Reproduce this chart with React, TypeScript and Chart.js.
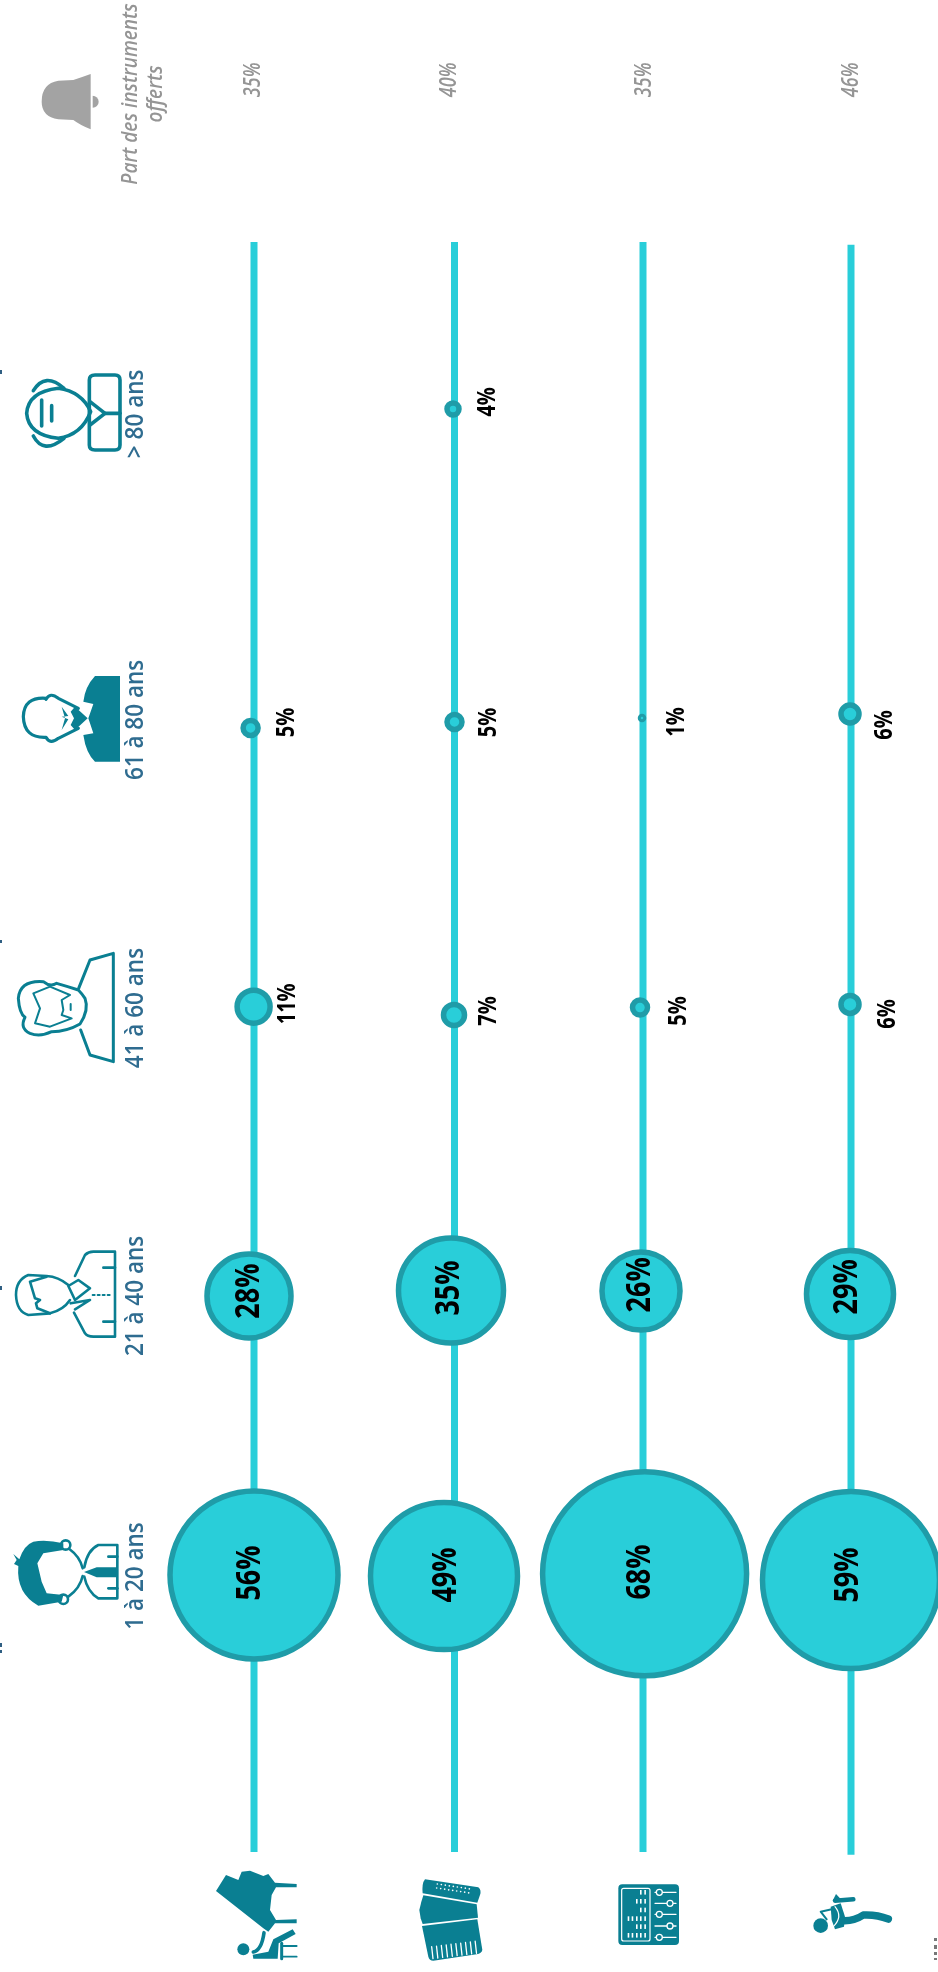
import React, { useEffect, useRef } from "react";
import { Chart, registerables } from "chart.js";

Chart.register(...registerables);

// ---- Data ----
const ageGroups = ["1 à 20 ans", "21 à 40 ans", "41 à 60 ans", "61 à 80 ans", "> 80 ans"];
const instruments = ["Piano", "Accordéon", "MAO", "Flûte"];

const pianoValues = [56, 28, 11, 5, null];
const accordionValues = [49, 35, 7, 5, 4];
const mixerValues = [68, 26, 5, 1, null];
const fluteValues = [59, 29, 6, 6, null];
const giftShare = [35, 40, 35, 46];

// Read axis positions (rows = instruments, columns = age groups; the hand-placed jitter of the source is kept)
const rowAxis = [0, 1.0025, 1.945, 2.985];
const lineFrom = [-0.972, -0.972, -0.972, -0.982];
const lineTo = [4.677, 4.677, 4.677, 4.667];
const pianoRow = [0, -0.025, -0.002, -0.017, 0];
const accordionRow = [0.95, 0.985, 1, 1.0025, 0.995];
const mixerRow = [1.953, 1.935, 1.93, 1.94, 1.945];
const fluteRow = [2.985, 2.98, 2.98, 2.98, 2.985];
const pianoAge = [0, 0.979, 1.994, 2.972, 4];
const accordionAge = [-0.004, 0.998, 1.965, 2.993, 4.091];
const mixerAge = [0.004, 0.996, 1.991, 3.007, 4];
const fluteAge = [-0.018, 0.986, 2.002, 3.021, 4];
const ageLabelAxis = [-0.0035, 0.979, 1.989, 3.0, 4.074];
const giftRowAxis = [-0.005, 0.975, 1.95, 2.985];
const giftAgeAxis = 5.246;

// Where the value labels sit on the same two axes
const pianoLabelRow = [-0.0175, -0.0225, 0.17, 0.165, 0];
const accordionLabelRow = [0.96, 0.975, 1.175, 1.175, 1.17];
const mixerLabelRow = [1.93, 1.93, 2.125, 2.115, 0];
const fluteLabelRow = [2.97, 2.965, 3.17, 3.155, 0];
const pianoLabelAge = [0.007, 0.996, 2.004, 2.991, 0];
const accordionLabelAge = [0, 1.007, 1.979, 2.991, 4.116];
const mixerLabelAge = [0.0105, 1.018, 1.979, 2.993, 0];
const fluteLabelAge = [0, 1.011, 1.968, 2.982, 0];

const allValues = [pianoValues, accordionValues, mixerValues, fluteValues];
const allRows = [pianoRow, accordionRow, mixerRow, fluteRow];
const allAges = [pianoAge, accordionAge, mixerAge, fluteAge];
const allLabelRows = [pianoLabelRow, accordionLabelRow, mixerLabelRow, fluteLabelRow];
const allLabelAges = [pianoLabelAge, accordionLabelAge, mixerLabelAge, fluteLabelAge];

// ---- Style ----
const CYAN = "#29CED9";
const EDGE = "#1F9CA8";
const TEAL = "#0A7F92";
const AGE_TEXT = "#2F6C90";
const GREY = "#A3A3A3";
const GREY_TEXT = "#959595";
const FONT = '"Open Sans"';

// The reference's text is stretched across its reading direction; `stretch` reproduces that.
function rotText(ctx: any, text: string, cx: number, cy: number, font: string, color: string, stretch = 1) {
  ctx.save();
  ctx.translate(cx, cy);
  ctx.rotate(-Math.PI / 2);
  ctx.scale(1, stretch);
  ctx.font = font;
  ctx.fillStyle = color;
  ctx.textAlign = "center";
  ctx.textBaseline = "middle";
  ctx.fillText(text, 0, 0);
  ctx.restore();
}

// Small path language in crop coordinates (1/3 px)
function path(ctx: any, ox: number, oy: number, d: any[]) {
  const X = (v: number) => ox + v / 3;
  const Y = (v: number) => oy + v / 3;
  ctx.beginPath();
  for (const s of d) {
    if (s[0] === "M") ctx.moveTo(X(s[1]), Y(s[2]));
    else if (s[0] === "L") ctx.lineTo(X(s[1]), Y(s[2]));
    else if (s[0] === "Q") ctx.quadraticCurveTo(X(s[1]), Y(s[2]), X(s[3]), Y(s[4]));
    else if (s[0] === "Z") ctx.closePath();
  }
}
function poly(pts: number[][], close = true) {
  const d: any[] = pts.map((p, i) => [i ? "L" : "M", p[0], p[1]]);
  if (close) d.push(["Z"]);
  return d;
}
function fillP(ctx: any, ox: number, oy: number, d: any[], color = TEAL) {
  path(ctx, ox, oy, d);
  ctx.fillStyle = color;
  ctx.fill();
}
function strokeP(ctx: any, ox: number, oy: number, d: any[], w = 2.6, color = TEAL) {
  path(ctx, ox, oy, d);
  ctx.strokeStyle = color;
  ctx.lineWidth = w;
  ctx.lineJoin = "round";
  ctx.lineCap = "round";
  ctx.stroke();
}
function circ(ctx: any, ox: number, oy: number, x: number, y: number, r: number, fill?: string, stroke?: string, w = 2) {
  ctx.beginPath();
  ctx.arc(ox + x / 3, oy + y / 3, r / 3, 0, Math.PI * 2);
  if (fill) {
    ctx.fillStyle = fill;
    ctx.fill();
  }
  if (stroke) {
    ctx.strokeStyle = stroke;
    ctx.lineWidth = w;
    ctx.stroke();
  }
}

function drawPeople(ctx: any) {
  // 1 à 20
  let ox = 0, oy = 1480;
  fillP(ctx, ox, oy, [["M", 190, 190], ["Q", 140, 178, 100, 185], ["Q", 72, 195, 58, 238], ["L", 40, 222], ["L", 50, 240], ["L", 42, 252], ["L", 55, 258], ["Q", 48, 340, 115, 377], ["L", 185, 365], ["L", 190, 345], ["L", 140, 340], ["L", 125, 305], ["L", 112, 250], ["L", 130, 220], ["L", 190, 210], ["Z"]]);
  circ(ctx, ox, oy, 197, 195, 14, undefined, TEAL, 2.6);
  circ(ctx, ox, oy, 190, 358, 14, undefined, TEAL, 2.6);
  strokeP(ctx, ox, oy, [["M", 208, 207], ["Q", 240, 230, 248, 265]]);
  strokeP(ctx, ox, oy, [["M", 205, 350], ["Q", 240, 325, 248, 288]]);
  strokeP(ctx, ox, oy, [["M", 253, 262], ["Q", 262, 210, 295, 195], ["L", 352, 195], ["L", 352, 355], ["L", 295, 355], ["Q", 262, 335, 253, 290]]);
  fillP(ctx, ox, oy, poly([[252, 276], [290, 262], [352, 262], [352, 292], [290, 292]]));
  strokeP(ctx, ox, oy, [["M", 325, 230], ["L", 352, 230]]);
  strokeP(ctx, ox, oy, [["M", 325, 325], ["L", 352, 325]]);

  // 21 à 40
  oy = 1220;
  strokeP(ctx, ox, oy, [["M", 205, 195], ["Q", 175, 170, 140, 168], ["L", 85, 165], ["Q", 48, 180, 48, 225], ["Q", 50, 275, 85, 285], ["L", 150, 280], ["Q", 190, 270, 210, 240]]);
  strokeP(ctx, ox, oy, poly([[140, 170], [90, 185], [105, 235], [120, 240], [108, 250], [112, 265], [150, 280]], false));
  strokeP(ctx, ox, oy, [["M", 225, 168], ["L", 255, 105], ["Q", 265, 95, 280, 95], ["L", 345, 95], ["L", 345, 350], ["L", 280, 350], ["Q", 262, 350, 255, 340], ["L", 222, 278]]);
  strokeP(ctx, ox, oy, poly([[205, 198], [235, 180], [270, 205], [225, 240], [205, 198]], false));
  strokeP(ctx, ox, oy, poly([[212, 250], [270, 240], [225, 268]], false));
  strokeP(ctx, ox, oy, [["M", 310, 143], ["L", 345, 143]]);
  strokeP(ctx, ox, oy, [["M", 310, 305], ["L", 345, 305]]);
  ctx.save();
  ctx.setLineDash([2, 3]);
  strokeP(ctx, ox, oy, [["M", 278, 225], ["L", 335, 225]], 2);
  ctx.restore();

  // 41 à 60
  oy = 930;
  strokeP(ctx, ox, oy, poly([[236, 175], [270, 90], [340, 70], [340, 395], [270, 375], [242, 300]], false), 3);
  strokeP(ctx, ox, oy, [["M", 235, 180], ["Q", 205, 170, 170, 160], ["Q", 150, 172, 130, 155], ["Q", 60, 150, 55, 205], ["Q", 58, 250, 75, 262], ["Q", 58, 295, 90, 310], ["Q", 120, 322, 155, 305], ["Q", 200, 305, 240, 282], ["Q", 268, 240, 255, 205], ["Q", 245, 190, 235, 180]], 3);
  strokeP(ctx, ox, oy, poly([[100, 190], [150, 170], [210, 195], [185, 210], [190, 240], [185, 255], [215, 265], [150, 290], [105, 280], [120, 235]]), 2);
  strokeP(ctx, ox, oy, [["M", 212, 222], ["L", 212, 240]], 2);

  // 61 à 80
  oy = 650;
  fillP(ctx, ox, oy, [["M", 360, 78], ["L", 285, 78], ["Q", 255, 110, 250, 155], ["L", 280, 162], ["L", 265, 205], ["L", 280, 250], ["L", 250, 255], ["Q", 258, 310, 285, 335], ["L", 360, 335], ["Z"]]);
  strokeP(ctx, ox, oy, [["M", 138, 145], ["Q", 72, 140, 70, 200], ["Q", 72, 265, 138, 262], ["Q", 150, 285, 175, 265], ["L", 235, 235]], 3.2);
  strokeP(ctx, ox, oy, [["M", 138, 148], ["Q", 150, 125, 175, 145], ["L", 235, 175]], 3.2);
  fillP(ctx, ox, oy, poly([[225, 170], [263, 205], [225, 240], [212, 225], [222, 205], [212, 185]]));
  fillP(ctx, ox, oy, poly([[185, 170], [205, 198], [185, 200], [205, 208], [185, 240], [195, 205]]));

  // > 80
  oy = 350;
  strokeP(ctx, ox, oy, [["M", 175, 115], ["Q", 245, 125, 272, 185], ["Q", 245, 255, 175, 265], ["Q", 85, 255, 80, 190], ["Q", 85, 125, 175, 115]], 3.6);
  strokeP(ctx, ox, oy, [["M", 100, 122], ["Q", 135, 65, 192, 115]], 3.6);
  strokeP(ctx, ox, oy, [["M", 100, 258], ["Q", 130, 315, 192, 265]], 3.6);
  strokeP(ctx, ox, oy, [["M", 125, 150], ["L", 125, 228]], 3.6);
  strokeP(ctx, ox, oy, [["M", 155, 167], ["L", 155, 213]], 3.6);
  strokeP(ctx, ox, oy, [["M", 285, 75], ["L", 345, 75], ["Q", 360, 75, 360, 90], ["L", 360, 285], ["Q", 360, 300, 345, 300], ["L", 285, 300], ["Q", 268, 300, 268, 285], ["L", 268, 90], ["Q", 268, 75, 285, 75]], 3.6);
  strokeP(ctx, ox, oy, poly([[270, 155], [315, 190], [270, 225]], false), 3.6);
  strokeP(ctx, ox, oy, [["M", 315, 190], ["L", 360, 190]], 3.6);
}

function drawInstruments(ctx: any) {
  let ox = 200, oy = 1860;
  // Piano
  fillP(ctx, ox, oy, poly([[48, 93], [78, 45], [115, 60], [125, 35], [150, 32], [190, 48], [205, 42], [225, 68], [290, 72], [290, 82], [228, 82], [215, 105], [210, 150], [228, 180], [290, 178], [290, 190], [225, 190], [205, 215], [190, 205]]));
  circ(ctx, ox, oy, 130, 268, 18, TEAL);
  strokeP(ctx, ox, oy, [["M", 192, 218], ["Q", 185, 270, 160, 276]], 3.6);
  fillP(ctx, ox, oy, poly([[158, 284], [205, 275], [220, 238], [278, 208], [287, 222], [236, 250], [233, 296], [160, 296]]));
  strokeP(ctx, ox, oy, [["M", 245, 250], ["L", 245, 296]], 3);
  strokeP(ctx, ox, oy, [["M", 245, 258], ["L", 290, 258]], 1.8);
  strokeP(ctx, ox, oy, [["M", 245, 290], ["L", 290, 290]], 1.8);
  // Accordion
  fillP(ctx, ox, oy, [["M", 675, 58], ["L", 835, 82], ["Q", 845, 90, 840, 105], ["L", 832, 128], ["L", 668, 100], ["Q", 665, 70, 675, 58]]);
  fillP(ctx, ox, oy, poly([[670, 106], [830, 133], [834, 173], [668, 192], [662, 175], [658, 150], [664, 125]]));
  fillP(ctx, ox, oy, [["M", 666, 198], ["L", 832, 178], ["L", 847, 270], ["Q", 845, 280, 830, 283], ["L", 700, 302], ["Q", 688, 302, 685, 290], ["Z"]]);
  for (let i = 0; i < 10; i++) {
    const x0 = 695 + i * 14.5;
    const y0 = 260 - i * 1.8;
    strokeP(ctx, ox, oy, [["M", x0, y0], ["L", x0 + 4, y0 + 36]], 1.3, "#FFFFFF");
  }
  for (let i = 0; i < 9; i++) {
    circ(ctx, ox, oy, 712 + i * 12, 72 + i * 1.8, 2.5, "#FFFFFF");
    circ(ctx, ox, oy, 710 + i * 12, 84 + i * 1.8, 2.5, "#FFFFFF");
  }
  // Mixer
  ox = 600;
  ctx.beginPath();
  ctx.roundRect(ox + 55 / 3, oy + 73 / 3, 182 / 3, 182 / 3, 4);
  ctx.fillStyle = TEAL;
  ctx.fill();
  ctx.beginPath();
  ctx.roundRect(ox + 65 / 3, oy + 85 / 3, 85 / 3, 158 / 3, 2);
  ctx.strokeStyle = "#FFFFFF";
  ctx.lineWidth = 1.2;
  ctx.stroke();
  const sliderY = [97, 130, 163, 198, 232];
  const sliderX = [178, 210, 178, 210, 178];
  sliderY.forEach((y, i) => {
    strokeP(ctx, ox, oy, [["M", 165, y], ["L", 228, y]], 1.3, "#FFFFFF");
    circ(ctx, ox, oy, sliderX[i], y, 9, TEAL, "#FFFFFF", 1.3);
  });
  const dashRows = [[97, [122, 135]], [124, [110, 122, 135]], [150, [122, 135]], [176, [85, 97, 110, 122, 135]], [200, [110, 122, 135]], [226, [85, 97, 110, 122, 135]]] as any[];
  ctx.fillStyle = "#FFFFFF";
  for (const [y, xs] of dashRows) for (const x of xs) ctx.fillRect(ox + (x - 2) / 3, oy + (y - 7) / 3, 1.6, 4.6);
  // Flute player
  circ(ctx, ox, oy, 662, 197, 22, TEAL);
  strokeP(ctx, ox, oy, [["M", 725, 182], ["Q", 760, 185, 790, 165], ["Q", 830, 163, 865, 177]], 7.5);
  fillP(ctx, ox, oy, poly([[692, 140], [722, 130], [735, 170], [732, 200], [705, 208], [695, 180]]));
  strokeP(ctx, ox, oy, [["M", 705, 122], ["L", 760, 118]], 4.5);
  fillP(ctx, ox, oy, poly([[698, 122], [708, 102], [725, 120]]));
  strokeP(ctx, ox, oy, [["M", 680, 178], ["L", 662, 155], ["L", 695, 148]], 2);
  strokeP(ctx, ox, oy, [["M", 705, 140], ["Q", 730, 170, 700, 200]], 1.2, "#FFFFFF");
}

function drawExtras(ctx: any) {
  // Bell
  const ox = 30, oy = 60;
  fillP(ctx, ox, oy, [["M", 182, 42], ["L", 182, 208], ["Q", 150, 195, 130, 180], ["L", 85, 178], ["Q", 35, 170, 35, 125], ["Q", 35, 70, 85, 62], ["L", 130, 60], ["Q", 160, 50, 182, 42], ["Z"]], GREY);
  ctx.beginPath();
  ctx.arc(ox + 188 / 3, oy + 125 / 3, 6, -Math.PI / 2, Math.PI / 2);
  ctx.fillStyle = GREY;
  ctx.fill();
  // Cropped remnants along the edges
  ctx.fillStyle = "#2F5F82";
  for (const [y, h] of [[370, 4], [940, 3], [1286, 4], [1643, 4], [1650, 3]]) ctx.fillRect(0, y, 2, h);
  ctx.fillStyle = "#777777";
  for (const [y, h] of [[1938, 3], [1945, 4], [1952, 3], [1958, 2]]) ctx.fillRect(934, y, 3, h);
}

const overlay = {
  id: "overlay",
  afterDatasetsDraw(chart: any) {
    const { ctx, scales } = chart;
    const px = (v: number) => scales.x.getPixelForValue(v);
    const py = (v: number) => scales.y.getPixelForValue(v);
    ctx.save();
    drawPeople(ctx);
    drawInstruments(ctx);
    drawExtras(ctx);
    // Age group labels
    ageGroups.forEach((name, i) => rotText(ctx, name, 136, py(ageLabelAxis[i]), `600 22.5px ${FONT}`, AGE_TEXT, 1.15));
    // Header
    rotText(ctx, "Part des instruments", 131, 94, `italic 600 19px ${FONT}`, GREY_TEXT, 1.15);
    rotText(ctx, "offerts", 156, 94, `italic 600 19px ${FONT}`, GREY_TEXT, 1.15);
    giftShare.forEach((v, i) => rotText(ctx, `${v}%`, px(giftRowAxis[i]), py(giftAgeAxis), `italic 600 18px ${FONT}`, GREY_TEXT, 1.3));
    // Values
    allValues.forEach((vals, r) =>
      vals.forEach((v, c) => {
        if (v == null) return;
        const font = v >= 20 ? `700 27px ${FONT}` : `700 20px ${FONT}`;
        rotText(ctx, `${v}%`, px(allLabelRows[r][c]), py(allLabelAges[r][c]), font, "#000000", 1.25);
      })
    );
    ctx.restore();
  },
};

export default function App() {
  const ref = useRef<HTMLCanvasElement>(null);
  useEffect(() => {
    document.body.style.margin = "0";
    document.body.style.background = "#FFFFFF";
    const lineSets = instruments.map((name, r) => ({
      type: "line",
      label: `${name} ligne`,
      data: [
        { x: rowAxis[r], y: lineFrom[r] },
        { x: rowAxis[r], y: lineTo[r] },
      ],
      borderColor: CYAN,
      borderWidth: 7,
      pointRadius: 0,
      order: 2,
    }));
    const bubbleSets = instruments.map((name, r) => ({
      type: "bubble",
      label: name,
      data: allValues[r]
        .map((v, c) => (v == null ? null : { x: allRows[r][c], y: allAges[r][c], r: v * 1.5 }))
        .filter(Boolean),
      backgroundColor: CYAN,
      borderColor: EDGE,
      borderWidth: 5.5,
      order: 1,
    }));
    const chart = new Chart(ref.current as any, {
      type: "bubble",
      data: { datasets: [...lineSets, ...bubbleSets] as any },
      options: {
        animation: false,
        responsive: false,
        maintainAspectRatio: false,
        layout: { padding: 0, autoPadding: false },
        plugins: { legend: { display: false }, tooltip: { enabled: false } },
        scales: {
          x: { type: "linear", min: -1.27, max: 3.42, display: false },
          y: { type: "linear", min: -1.393, max: 5.526, display: false },
        },
      },
      plugins: [overlay],
    } as any);
    return () => chart.destroy();
  }, []);
  return (
    <div style={{ position: "absolute", left: 0, top: 0, width: 938, height: 1972, overflow: "hidden", background: "#FFFFFF" }}>
      <canvas ref={ref} width={938} height={1972} style={{ display: "block" }} />
    </div>
  );
}
